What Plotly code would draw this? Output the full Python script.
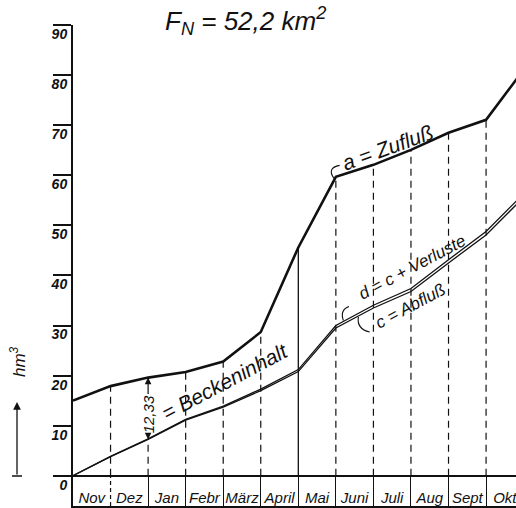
import plotly.graph_objects as go

# Monatsgrenzen (0 = Anfang November, 12 = Ende Oktober)
grenzen = list(range(13))
monate = ["Nov", "Dez", "Jan", "Febr", "März", "April", "Mai", "Juni", "Juli", "Aug", "Sept", "Okt"]

# Summenlinien in hm³ an den Monatsgrenzen
zufluss_a = [15.0, 17.9, 19.6, 20.7, 22.8, 28.7, 45.6, 59.7, 62.1, 65.1, 68.5, 71.1, 81.1]
abfluss_c = [0.0, 3.8, 7.27, 11.1, 13.7, 17.0, 20.8, 29.5, 33.5, 36.8, 42.5, 48.1, 55.6]
verluste = [0.0, 0.05, 0.1, 0.15, 0.2, 0.3, 0.4, 0.5, 0.55, 0.6, 0.65, 0.7, 0.75]
abfluss_d = [c + v for c, v in zip(abfluss_c, verluste)]

y_ticks = list(range(0, 91, 10))
beckeninhalt_jan = 12.33

FONT = "Liberation Sans, Arial, sans-serif"
INK = "#111111"

fig = go.Figure()

fig.add_trace(go.Scatter(x=grenzen, y=zufluss_a, mode="lines",
                         line=dict(color=INK, width=2.6), hoverinfo="skip"))
fig.add_trace(go.Scatter(x=grenzen, y=abfluss_c, mode="lines",
                         line=dict(color=INK, width=1.3), hoverinfo="skip"))
fig.add_trace(go.Scatter(x=grenzen, y=abfluss_d, mode="lines",
                         line=dict(color=INK, width=1.3), hoverinfo="skip"))

# senkrechte Hilfslinien an den Monatsgrenzen bis zur Zuflusslinie
for k in grenzen[1:12]:
    if k == 6:
        fig.add_shape(type="line", x0=k, x1=k, y0=0, y1=zufluss_a[k],
                      line=dict(color=INK, width=1.3))
    elif k == 2:
        fig.add_shape(type="line", x0=k, x1=k, y0=0, y1=abfluss_c[k],
                      line=dict(color=INK, width=1.2, dash="7px,5px"))
    else:
        fig.add_shape(type="line", x0=k, x1=k, y0=0, y1=zufluss_a[k],
                      line=dict(color=INK, width=1.2, dash="7px,5px"))

# gestrichelte Trennlinie Nov/Dez in der Monatsleiste
fig.add_shape(type="line", x0=1, x1=1, y0=-6.05, y1=0,
              line=dict(color=INK, width=1.2, dash="4px,3px"))

# Maßpfeil für den Beckeninhalt im Januar
mitte = abfluss_c[2] + beckeninhalt_jan / 2 - 1.2
halb = 3.8
fig.add_annotation(x=2, y=zufluss_a[2], ax=2, ay=mitte + halb, axref="x", ayref="y",
                   xref="x", yref="y", text="", showarrow=True, arrowhead=2,
                   arrowsize=1.1, arrowwidth=1.2, arrowcolor=INK, standoff=0)
fig.add_annotation(x=2, y=abfluss_c[2], ax=2, ay=mitte - halb, axref="x", ayref="y",
                   xref="x", yref="y", text="", showarrow=True, arrowhead=2,
                   arrowsize=1.1, arrowwidth=1.2, arrowcolor=INK, standoff=0)
fig.add_annotation(x=2.02, y=mitte, xref="x", yref="y", showarrow=False,
                   text=f"{beckeninhalt_jan:.2f}".replace(".", ","), textangle=-90,
                   font=dict(family=FONT, size=15, color=INK, style="italic"))

fig.add_annotation(x=4.05, y=18.8, xref="x", yref="y", showarrow=False,
                   text="= Beckeninhalt", textangle=-28,
                   font=dict(family=FONT, size=21, color=INK, style="italic"))

fig.add_annotation(x=8.37, y=65.6, xref="x", yref="y", showarrow=False,
                   text="a = Zufluß", textangle=-20,
                   font=dict(family=FONT, size=21, color=INK, style="italic"))
fig.add_annotation(x=9.02, y=41.6, xref="x", yref="y", showarrow=False,
                   text="d = c + Verluste", textangle=-28,
                   font=dict(family=FONT, size=17, color=INK, style="italic"))
fig.add_annotation(x=8.97, y=33.9, xref="x", yref="y", showarrow=False,
                   text="c = Abfluß", textangle=-28,
                   font=dict(family=FONT, size=17, color=INK, style="italic"))

# kleine Bogenklammern zwischen Beschriftung und Linie
def bogen(x0, y0, xc, yc, x1, y1):
    return f"M {x0},{y0} Q {xc},{yc} {x1},{y1}"

a7 = zufluss_a[7]
fig.add_shape(type="path", path=bogen(6.95, a7 - 0.3, 6.75, a7 + 1.8, 7.1, a7 + 2.3),
              line=dict(color=INK, width=1.1))
d_at = abfluss_d[7] + 0.2 * (abfluss_d[8] - abfluss_d[7])
fig.add_shape(type="path", path=bogen(7.2, d_at + 0.2, 7.1, d_at + 2.3, 7.35, d_at + 3.0),
              line=dict(color=INK, width=1.1))
c_at = abfluss_c[7] + 0.6 * (abfluss_c[8] - abfluss_c[7])
fig.add_shape(type="path", path=bogen(7.6, c_at - 0.2, 7.55, c_at - 2.6, 7.9, c_at - 3.2),
              line=dict(color=INK, width=1.1))

# Überschrift
fig.add_annotation(x=0.39, y=0.958, xref="paper", yref="paper", showarrow=False,
                   xanchor="center", yanchor="middle",
                   text="F<sub>N</sub> = 52,2 km<sup>2</sup>",
                   font=dict(family=FONT, size=26, color=INK, style="italic"))

# Einheit und Pfeil an der Ordinate
fig.add_annotation(x=-0.124, y=0.2846, xref="paper", yref="paper", showarrow=False,
                   xanchor="center", yanchor="middle",
                   text="hm<sup>3</sup>", textangle=-90,
                   font=dict(family=FONT, size=17, color=INK, style="italic"))
fig.add_annotation(x=-0.1264, y=0.2055, xref="paper", yref="paper", ax=0, ay=74,
                   text="", showarrow=True, arrowhead=2, arrowsize=1.2,
                   arrowwidth=1.3, arrowcolor=INK, standoff=0)
fig.add_shape(type="line", xref="paper", yref="paper",
              x0=-0.1377, x1=-0.1151, y0=0.0593, y1=0.0593,
              line=dict(color=INK, width=1.5))

mitten = [k + 0.5 for k in range(12)]

fig.update_layout(
    width=516, height=508,
    margin=dict(l=73, r=0, t=0, b=2),
    paper_bgcolor="white", plot_bgcolor="white",
    showlegend=False,
    xaxis=dict(
        range=[0, 11.797], showgrid=False, zeroline=False,
        showline=True, linecolor=INK, linewidth=2,
        tickmode="array", tickvals=mitten, ticktext=monate,
        ticks="", ticklabelposition="inside", ticklabeloverflow="allow",
        tickfont=dict(family=FONT, size=15, color=INK, style="italic"),
        minor=dict(tickmode="array", tickvals=grenzen[2:12], ticks="inside",
                   ticklen=30, tickwidth=1.4, tickcolor=INK),
        fixedrange=True,
    ),
    yaxis=dict(
        range=[-6.05, 90], domain=[0, 0.9502], showgrid=False,
        zeroline=True, zerolinecolor=INK, zerolinewidth=2,
        showline=True, linecolor=INK, linewidth=2,
        tickmode="array", tickvals=y_ticks, ticks="outside", ticklen=18,
        tickwidth=2, tickcolor=INK, ticklabelshift=9, ticklabelstandoff=-17,
        tickfont=dict(family=FONT, size=14, color=INK, style="italic", weight="bold"),
        fixedrange=True,
    ),
)

fig.write_html("out.html")
